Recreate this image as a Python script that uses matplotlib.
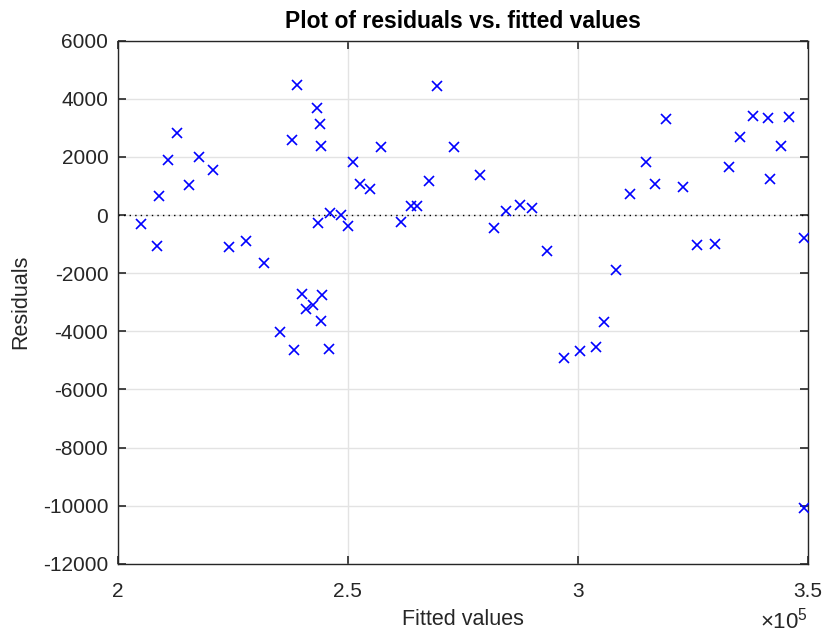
import numpy as np
from matplotlib import pyplot as plt
from matplotlib.ticker import FuncFormatter

# fitted values and residuals
fitted = np.array([
	205000, 208500, 208900, 210900, 212800, 215400, 217600, 220700,
	224100, 227800, 231800, 235200, 237800, 238300, 239000, 240000,
	240800, 242500, 243200, 243500, 244000, 244200, 244400, 244200,
	245800, 246200, 248500, 250100, 251200, 252700, 254900, 261500,
	257200, 263700, 265100, 267600, 269300, 273100, 278700, 281800,
	284400, 287400, 290000, 293400, 297000, 300500, 303900, 305600,
	308300, 311400, 314800, 316700, 319200, 322900, 326000, 329900,
	332900, 335200, 338000, 341300, 341700, 344200, 345900, 349300,
	349100])
residuals = np.array([
	-310, -1067, 654, 1893, 2822, 1032, 1996, 1549,
	-1101, -895, -1652, -4026, 2591, -4635, 4473, -2730,
	-3235, -3108, 3671, -264, 3143, 2386, -2741, -3636,
	-4622, 80, 10, -379, 1824, 1067, 895, -252,
	2340, 299, 320, 1181, 4439, 2329, 1376, -447,
	138, 356, 252, -1250, -4932, -4669, -4531, -3682,
	-1904, 712, 1835, 1055, 3303, 975, -1032, -998,
	1663, 2673, 3418, 3339, 1239, 2375, 3384, -780,
	-10093])

x_ticks = [200000, 250000, 300000, 350000]
y_ticks = np.arange(-12000, 6001, 2000)

def main():
	plt.rcParams['font.family'] = ['Liberation Sans', 'DejaVu Sans']
	plt.rcParams['mathtext.fontset'] = 'custom'
	plt.rcParams['mathtext.rm'] = 'Liberation Sans'
	plt.rcParams['mathtext.it'] = 'Liberation Sans'
	fig = plt.figure(figsize=(8.24, 6.32), dpi=100)
	ax = fig.add_axes([0.1432, 0.108, 0.8370, 0.8276])

	ax.axhline(0, color='black', linestyle=(0, (1, 3)), linewidth=1.0, zorder=1)
	ax.plot(fitted, residuals, 'x', color='#0000ff', markersize=7,
		markeredgewidth=1.2, zorder=3)

	ax.set_xlim(200000, 350000)
	ax.set_ylim(-12000, 6000)
	ax.set_xticks(x_ticks)
	ax.set_yticks(y_ticks)
	ax.xaxis.set_major_formatter(FuncFormatter(lambda v, p: ('%g' % (v / 1e5))))
	ax.yaxis.set_major_formatter(FuncFormatter(lambda v, p: '%d' % v))

	ax.grid(True, color='#e3e3e3', linewidth=1.0, zorder=0)
	ax.set_axisbelow(True)
	for s in ax.spines.values():
		s.set_color('#262626')
		s.set_linewidth(1.0)
	ax.tick_params(direction='in', length=6, width=1.2, top=True, right=True,
		labelsize=15, colors='#262626')
	ax.tick_params(axis='x', pad=13)
	ax.tick_params(axis='y', pad=7)

	ax.set_xlabel('Fitted values', fontsize=15.5, color='#262626', labelpad=6)
	ax.set_ylabel('Residuals', fontsize=15.5, color='#262626', labelpad=8)
	ax.set_title('Plot of residuals vs. fitted values', fontsize=16.5,
		fontweight='bold', color='black', pad=9)
	ax.text(1.0, -0.123, r'$\times\mathrm{10^{5}}$', transform=ax.transAxes,
		ha='right', va='baseline', fontsize=16, color='#262626')

	fig.savefig('out.png', dpi=100)


if __name__ == '__main__':
	main()
